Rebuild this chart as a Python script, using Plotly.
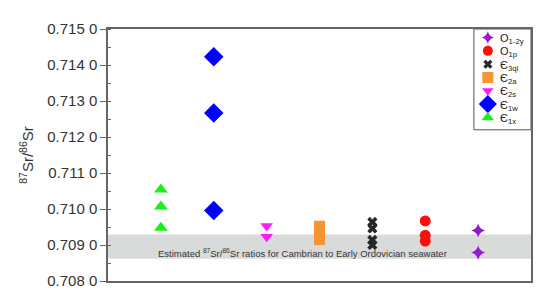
import plotly.graph_objects as go

# ---- data ----
groups = ["Є1x", "Є1w", "Є2s", "Є2a", "Є3ql", "O1p", "O1-2y"]
legend_labels = ["Є<sub>1x</sub>", "Є<sub>1w</sub>", "Є<sub>2s</sub>", "Є<sub>2a</sub>",
                 "Є<sub>3ql</sub>", "O<sub>1p</sub>", "O<sub>1-2y</sub>"]
x_pos = [1, 2, 3, 4, 5, 6, 7]
sr_1x = [0.71054, 0.71007, 0.70948]
sr_1w = [0.71423, 0.71267, 0.70996]
sr_2s = [0.70953, 0.70923]
sr_2a = [0.70952, 0.70940, 0.70928, 0.70915]
sr_3ql = [0.70964, 0.70946, 0.70914, 0.70900]
sr_1p = [0.70967, 0.70927, 0.70911]
sr_12y = [0.70940, 0.70879]
seawater_band = [0.70862, 0.70929]
y_tickvals = [0.708, 0.709, 0.710, 0.711, 0.712, 0.713, 0.714, 0.715]
y_ticktext = ["0.708 0", "0.709 0", "0.710 0", "0.711 0", "0.712 0", "0.713 0", "0.714 0", "0.715 0"]

series = [sr_1x, sr_1w, sr_2s, sr_2a, sr_3ql, sr_1p, sr_12y]
symbols = ["triangle-up", "diamond", "triangle-down", "square", "x", "circle", "star-diamond"]
colors = ["#19f019", "#0000ff", "#ff1aff", "#f79433", "#262626", "#ff0d0d", "#9419d1"]
sizes = [12, 15, 11, 11, 9, 11, 10]
legend_sizes = [11, 14, 10, 11, 8, 10, 9]

fig = go.Figure()
for i in range(len(groups)):
    fig.add_trace(go.Scatter(
        x=[x_pos[i]] * len(series[i]), y=series[i], mode="markers",
        name=groups[i], showlegend=False,
        marker=dict(symbol=symbols[i], color=colors[i], size=sizes[i], line=dict(width=0)),
    ))

# ---- compact legend (drawn on an overlay axis in plot-fraction units) ----
n = len(groups)
leg_x0, leg_x1, leg_y0, leg_y1 = 0.865, 1.0, 0.60, 1.0
sym_x, txt_x = 0.898, 0.922
top_item, step = 0.966, 0.0528
fig.add_shape(type="rect", xref="paper", yref="paper", x0=leg_x0, x1=leg_x1, y0=leg_y0, y1=leg_y1,
              fillcolor="white", line=dict(color="#555555", width=1), layer="below")
for k in range(n):
    i = n - 1 - k  # reversed order: O1-2y at top
    yk = top_item - k * step
    fig.add_trace(go.Scatter(
        x=[sym_x], y=[yk], xaxis="x2", yaxis="y2", mode="markers", showlegend=False,
        hoverinfo="skip",
        marker=dict(symbol=symbols[i], color=colors[i], size=legend_sizes[i], line=dict(width=0)),
    ))
    fig.add_annotation(x=txt_x, y=yk - 0.006, xref="paper", yref="paper", xanchor="left",
                       yanchor="middle", text=legend_labels[i], showarrow=False,
                       font=dict(size=11, color="#222222"))

fig.add_shape(type="rect", xref="paper", yref="y", x0=0, x1=1,
              y0=seawater_band[0], y1=seawater_band[1],
              fillcolor="#d9dbdb", line=dict(width=0), layer="below")

fig.add_annotation(x=3.68, y=0.70879, xref="x", yref="y",
                   text="Estimated <sup>87</sup>Sr/<sup>86</sup>Sr ratios for Cambrian to Early Ordovician seawater",
                   showarrow=False, font=dict(size=9.5, color="#333333"))

fig.update_layout(
    width=548, height=293,
    margin=dict(l=100, r=25, t=16, b=12),
    plot_bgcolor="white", paper_bgcolor="white",
    font=dict(family="Liberation Sans, Arial, sans-serif", color="#333333"),
    showlegend=False,
    xaxis=dict(range=[0, 8], showticklabels=False, ticks="", showgrid=False, zeroline=False,
               showline=True, linecolor="#666666", linewidth=1.5, mirror=True),
    yaxis=dict(range=[0.708, 0.715], tickvals=y_tickvals, ticktext=y_ticktext,
               ticks="outside", ticklen=6, tickcolor="#666666", showgrid=False, zeroline=False,
               showline=True, linecolor="#666666", linewidth=1.5, mirror=True,
               tickfont=dict(size=15, color="#333333"),
               minor=dict(dtick=0.0005, ticks="inside", ticklen=3, tickcolor="#666666"),
               title=dict(text="<sup>87</sup>Sr/<sup>86</sup>Sr", font=dict(size=15, color="#333333"),
                          standoff=10)),
    xaxis2=dict(overlaying="x", range=[0, 1], visible=False, fixedrange=True),
    yaxis2=dict(overlaying="y", range=[0, 1], visible=False, fixedrange=True),
)

fig.write_html("out.html")
